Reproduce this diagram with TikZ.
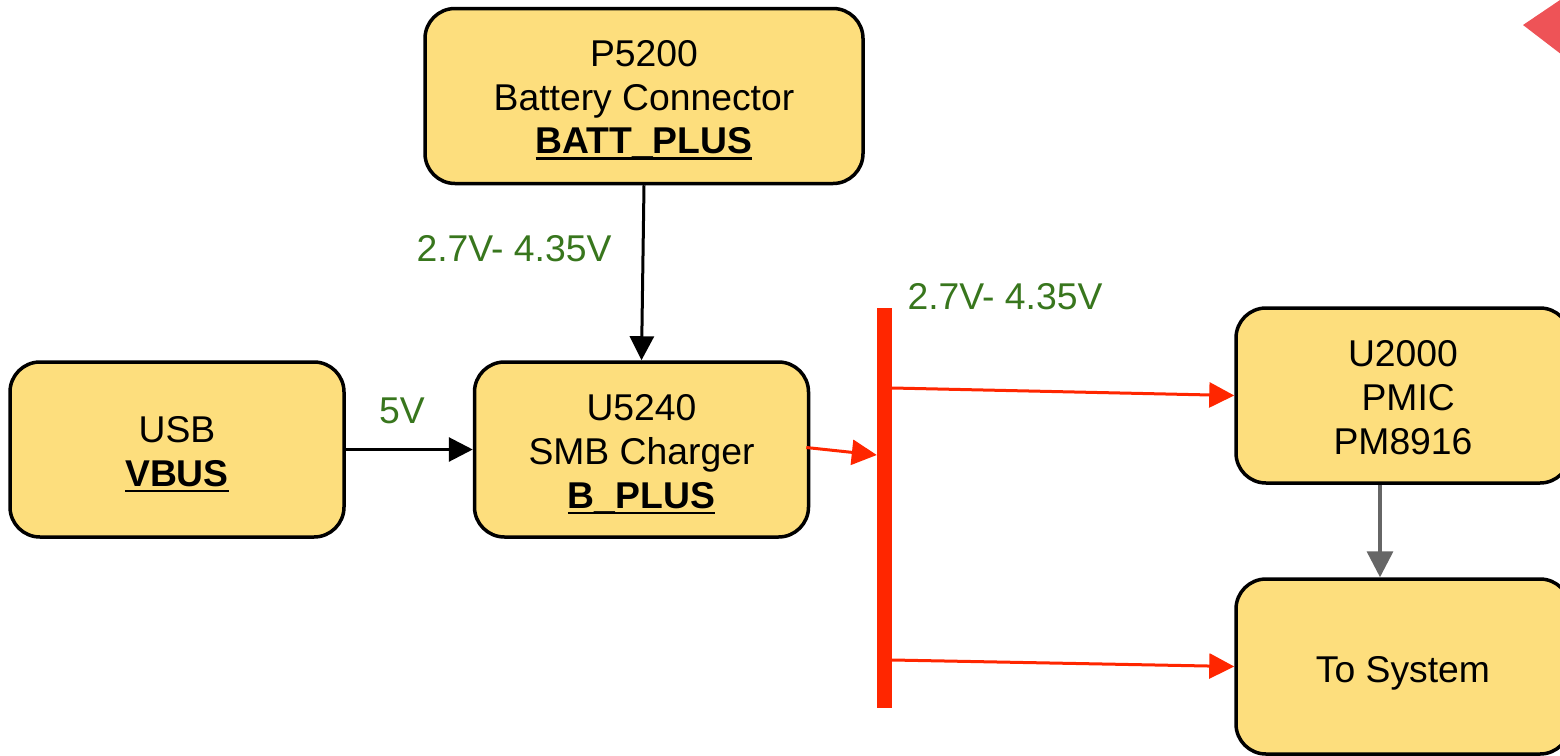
\documentclass[tikz,border=0pt]{standalone}
\usepackage{fontspec}
\setmainfont{Liberation Sans}
\usetikzlibrary{arrows.meta}
\definecolor{boxfill}{HTML}{FDDE7D}
\definecolor{busred}{HTML}{FF2600}
\definecolor{volt}{HTML}{38761D}
\definecolor{arrgray}{HTML}{666666}
\definecolor{diamred}{HTML}{EE5357}
\newcommand{\thickul}[1]{\setbox0=\hbox{#1}\leavevmode\rlap{\rule[-6pt]{\wd0}{2.6pt}}\box0}
\tikzset{
  blockbox/.style={draw=black, line width=3.5pt, fill=boxfill, rounded corners=30pt,
    minimum width=334pt, minimum height=175pt, inner sep=0pt},
  boxtext/.style={align=center, inner sep=0pt, font=\fontsize{37.3pt}{43.8pt}\selectfont},
  voltlabel/.style={text=volt, font=\fontsize{37.3pt}{43.8pt}\selectfont, inner sep=0pt},
  blackarrow/.style={line width=3pt, -{Triangle[length=24pt,width=24pt]}},
  redarrow/.style={draw=busred, line width=3pt, -{Triangle[length=25pt,width=25pt]}},
  grayarrow/.style={draw=arrgray, line width=3.5pt, -{Triangle[length=26pt,width=26pt]}},
}
\begin{document}
\begin{tikzpicture}[x=1pt,y=-1pt]
\useasboundingbox (0,0) rectangle (1560,755);
\begin{scope}
\clip (0,0) rectangle (1560,755);
\fill[diamred] (1523,25) -- (1600,-27) -- (1677,25) -- (1600,84) -- cycle;
\node[blockbox, minimum width=438pt] (p5200) at (644,96) {};
\node[blockbox] (usb) at (177,449.5) {};
\node[blockbox] (u5240) at (641.5,449.5) {};
\node[blockbox] (u2000) at (1403,395.5) {};
\node[blockbox] (tosys) at (1403,666.5) {};
\node[fill=busred, minimum width=15pt, minimum height=400pt, inner sep=0pt] (bus) at (884.5,508) {};
\end{scope}
\node[boxtext] (p5200t) at ([yshift=-4pt]p5200.center) {P5200\\Battery Connector\\\textbf{\thickul{BATT\_PLUS}}};
\node[boxtext] (usbt) at ([yshift=-5pt]usb.center) {USB\\\textbf{\thickul{VBUS}}};
\node[boxtext] (u5240t) at ([yshift=-5pt]u5240.center) {U5240\\SMB Charger\\\textbf{\thickul{B\_PLUS}}};
\node[boxtext] (u2000t) at ([yshift=-2pt]u2000.center) {U2000\\\ PMIC\\PM8916};
\node[boxtext] (tosyst) at ([yshift=-7pt]tosys.center) {To System};
\node[voltlabel] (l1) at (514,249) {2.7V- 4.35V};
\node[voltlabel] (l2) at (402,411) {5V};
\node[voltlabel] (l3) at (1005,297) {2.7V- 4.35V};
\coordinate (busin) at (bus.west |- 0,455);
\coordinate (busout1) at (bus.east |- 0,388);
\coordinate (busout2) at (bus.east |- 0,660);
\coordinate (gx) at (1380,0);
\draw[blackarrow] (p5200.south) -- (u5240.north);
\draw[blackarrow] (usb.east) -- (u5240.west);
\draw[redarrow] ([xshift=-4pt,yshift=2pt]u5240.east) -- (busin);
\draw[redarrow] (busout1) -- (u2000.west);
\draw[redarrow] (busout2) -- (tosys.west);
\draw[grayarrow] (u2000.south -| gx) -- (tosys.north -| gx);
\end{tikzpicture}
\end{document}
